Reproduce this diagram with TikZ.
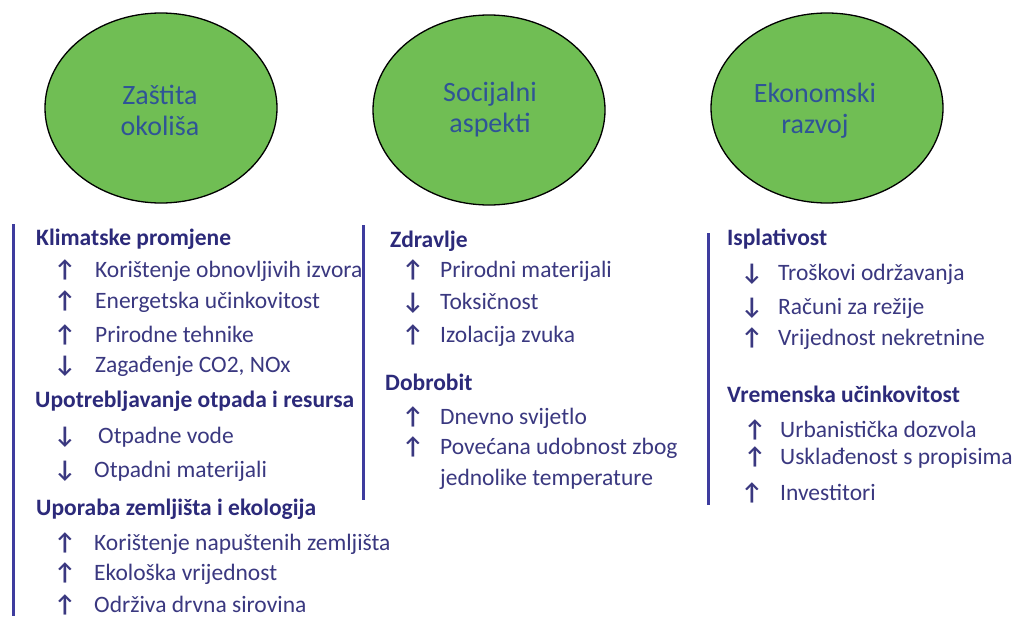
\documentclass[tikz,border=0pt]{standalone}
\usepackage{fontspec}
\setmainfont{Carlito}
\usetikzlibrary{shapes.geometric}
\definecolor{ellfill}{RGB}{112,190,84}
\definecolor{elltext}{RGB}{47,84,150}
\definecolor{headc}{RGB}{44,42,122}
\definecolor{itemc}{RGB}{58,56,128}
\definecolor{barc}{RGB}{62,60,158}
\begin{document}
\begin{tikzpicture}[x=1pt,y=-1pt,
 circ/.style={ellipse,draw=black,line width=1.3pt,fill=ellfill,minimum width=232pt,minimum height=190pt,inner sep=0pt},
 ctext/.style={text=elltext,font=\fontsize{28}{31}\selectfont,align=center,inner sep=0pt},
 head/.style={anchor=base west,inner sep=0pt,text=headc,font=\fontsize{23.5}{28}\selectfont\bfseries},
 item/.style={anchor=base west,inner sep=0pt,text=itemc,font=\fontsize{23.5}{28}\selectfont},
 arr/.style={anchor=base west,inner sep=0pt,text=itemc,font=\fontsize{24}{28}\selectfont\bfseries},
 bar/.style={draw=barc,line width=3pt}]
\useasboundingbox[fill=white] (0,0) rectangle (1016,616);

% ellipses
\node[circ] (e1) at (161,108) {};
\node[circ] (e2) at (489,110) {};
\node[circ] (e3) at (827,108) {};
\node[ctext] (t1) at (160,110) {Zaštita\\okoliša};
\node[ctext] (t2) at (490,110) {Socijalni\\aspekti};
\node[ctext] (t3) at (815,111) {Ekonomski\\razvoj};

% bars
\draw[bar] (13,224) -- (13,616);
\draw[bar] (363,225) -- (363,500);
\draw[bar] (708,233) -- (708,505);

% column 1
\node[head] (h11) at (36,245) {Klimatske promjene};
\node[arr] (a11) at (54,277) {↑};
\node[item] (i11) at (95,277) {Korištenje obnovljivih izvora};
\node[arr] (a12) at (54,308) {↑};
\node[item] (i12) at (95,308) {Energetska učinkovitost};
\node[arr] (a13) at (54,342) {↑};
\node[item] (i13) at (95,342) {Prirodne tehnike};
\node[arr] (a14) at (54,372) {↓};
\node[item] (i14) at (95,372) {Zagađenje CO2, NOx};
\node[head] (h12) at (35,407) {Upotrebljavanje otpada i resursa};
\node[arr] (a15) at (54,443) {↓};
\node[item] (i15) at (98,443) {Otpadne vode};
\node[arr] (a16) at (54,477) {↓};
\node[item] (i16) at (94,477) {Otpadni materijali};
\node[head] (h13) at (36,515) {Uporaba zemljišta i ekologija};
\node[arr] (a17) at (54,550) {↑};
\node[item] (i17) at (94,550) {Korištenje napuštenih zemljišta};
\node[arr] (a18) at (54,580) {↑};
\node[item] (i18) at (94,580) {Ekološka vrijednost};
\node[arr] (a19) at (54,612) {↑};
\node[item] (i19) at (94,612) {Održiva drvna sirovina};

% column 2
\node[head] (h21) at (390,247) {Zdravlje};
\node[arr] (a21) at (402,277) {↑};
\node[item] (i21) at (440,277) {Prirodni materijali};
\node[arr] (a22) at (402,309) {↓};
\node[item] (i22) at (440,309) {Toksičnost};
\node[arr] (a23) at (402,342) {↑};
\node[item] (i23) at (440,342) {Izolacija zvuka};
\node[head] (h22) at (385,390) {Dobrobit};
\node[arr] (a24) at (402,424) {↑};
\node[item] (i24) at (440,424) {Dnevno svijetlo};
\node[arr] (a25) at (402,454) {↑};
\node[item] (i25) at (440,454) {Povećana udobnost zbog};
\node[item] (i26) at (440,485) {jednolike temperature};

% column 3
\node[head] (h31) at (727,245) {Isplativost};
\node[arr] (a31) at (741,280) {↓};
\node[item] (i31) at (778,280) {Troškovi održavanja};
\node[arr] (a32) at (741,314) {↓};
\node[item] (i32) at (778,314) {Računi za režije};
\node[arr] (a33) at (741,345) {↑};
\node[item] (i33) at (778,345) {Vrijednost nekretnine};
\node[head] (h32) at (727,402) {Vremenska učinkovitost};
\node[arr] (a34) at (744,437) {↑};
\node[item] (i34) at (780,437) {Urbanistička dozvola};
\node[arr] (a35) at (744,464) {↑};
\node[item] (i35) at (780,464) {Usklađenost s propisima};
\node[arr] (a36) at (741,500) {↑};
\node[item] (i36) at (780,500) {Investitori};
\end{tikzpicture}
\end{document}
